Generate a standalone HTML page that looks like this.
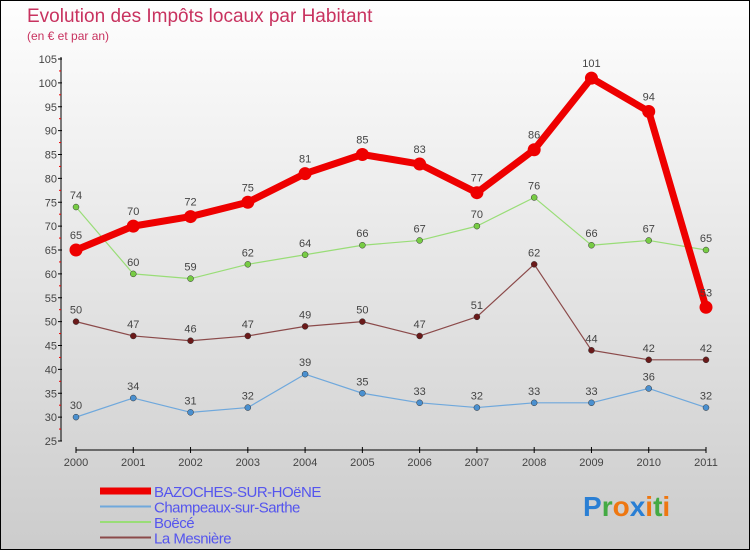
<!DOCTYPE html>
<html><head><meta charset="utf-8"><style>
body{margin:0;width:750px;height:550px;overflow:hidden}
#c{position:absolute;left:0;top:0;width:748px;height:548px;border:1px solid #000;background:linear-gradient(#fefefe,#cccccc)}
text{font-family:"Liberation Sans",sans-serif}
</style></head><body>
<div id="c">
<svg id="s" width="750" height="550" style="position:absolute;left:-1px;top:-1px">
<text x="27" y="22" font-size="19" fill="#c8325f">Evolution des Impôts locaux par Habitant</text>
<text x="27" y="40" font-size="12" fill="#c8325f">(en € et par an)</text>
</svg></div>
<script>
const years=[2000,2001,2002,2003,2004,2005,2006,2007,2008,2009,2010,2011];
const bazoches=[65,70,72,75,81,85,83,77,86,101,94,53];
const champeaux=[30,34,31,32,39,35,33,32,33,33,36,32];
const boece=[74,60,59,62,64,66,67,70,76,66,67,65];
const mesniere=[50,47,46,47,49,50,47,51,62,44,42,42];
const yTicks=[25,30,35,40,45,50,55,60,65,70,75,80,85,90,95,100,105];
const s=document.getElementById('s');const NS='http://www.w3.org/2000/svg';
function X(i){return 76+i*(630/11)}
function Y(v){return 441-(v-25)*(382/80)}
function el(t,a,p){const e=document.createElementNS(NS,t);for(const k in a)e.setAttribute(k,a[k]);(p||s).appendChild(e);return e}
const ax=el('g',{});
el('line',{x1:61,y1:57,x2:61,y2:441,stroke:'#000'},ax);
el('line',{x1:76,y1:450,x2:706,y2:450,stroke:'#000'},ax);
yTicks.forEach(v=>{el('line',{x1:58,x2:62,y1:Y(v),y2:Y(v),stroke:'#000'},ax);
 if(v<105)el('line',{x1:59,x2:61,y1:Y(v+2.5),y2:Y(v+2.5),stroke:'#e00'},ax);
 const t=el('text',{x:57,y:Y(v)+4,'font-size':11,fill:'#444','text-anchor':'end'},ax);t.textContent=v;
 });
years.forEach((y,i)=>{el('line',{x1:X(i),x2:X(i),y1:447,y2:453,stroke:'#000'},ax);
 const t=el('text',{x:X(i),y:466,'font-size':11,fill:'#444','text-anchor':'middle'},ax);t.textContent=y;
 });
function series(d,col,dot,w,r,name){const g=el('g',{});
 el('polyline',{points:d.map((v,i)=>X(i)+','+Y(v)).join(' '),fill:'none',stroke:col,'stroke-width':w,'stroke-linejoin':'round'},g);
 d.forEach((v,i)=>{const c=el('circle',{cx:X(i),cy:Y(v),r:r,fill:dot,stroke:w>3?'none':'#333','stroke-width':0.5},g);
 
 const t=el('text',{x:X(i),y:Y(v)-(w>3?11:8),'font-size':11,fill:'#444','text-anchor':'middle'},g);t.textContent=v;
 });}
series(champeaux,'#6fa8dc','#4a90d0',1.2,3,'series-champeaux');
series(boece,'#99dd77','#77cc44',1.2,3,'series-boece');
series(mesniere,'#8b4a4a','#6b1a1a',1.2,3,'series-mesniere');
series(bazoches,'#ee0000','#ee0000',7,6.5,'series-bazoches');
const legend=[['BAZOCHES-SUR-HOëNE','#ee0000',7],['Champeaux-sur-Sarthe','#6fa8dc',2],['Boëcé','#99dd77',2],['La Mesnière','#8b4a4a',2]];
legend.forEach((l,i)=>{const g=el('g',{});
 const y=491+i*15.5;el('line',{x1:100,x2:151,y1:y,y2:y,stroke:l[1],'stroke-width':l[2]},g);
 const t=el('text',{x:154,y:y+6,'font-size':15,fill:'#5555ee','letter-spacing':'-0.5'},g);t.textContent=l[0];});
const lg=el('text',{x:583,y:516,'font-size':28,'font-weight':'bold'});
[['P','#2a7fd4'],['r','#44aa44'],['o','#ee7711'],['x','#2a7fd4'],['i','#ee7711'],['t','#44aa44'],['i','#ee7711']].forEach(c=>{const ts=el('tspan',{fill:c[1]},lg);ts.textContent=c[0];});
</script>
</body></html>
